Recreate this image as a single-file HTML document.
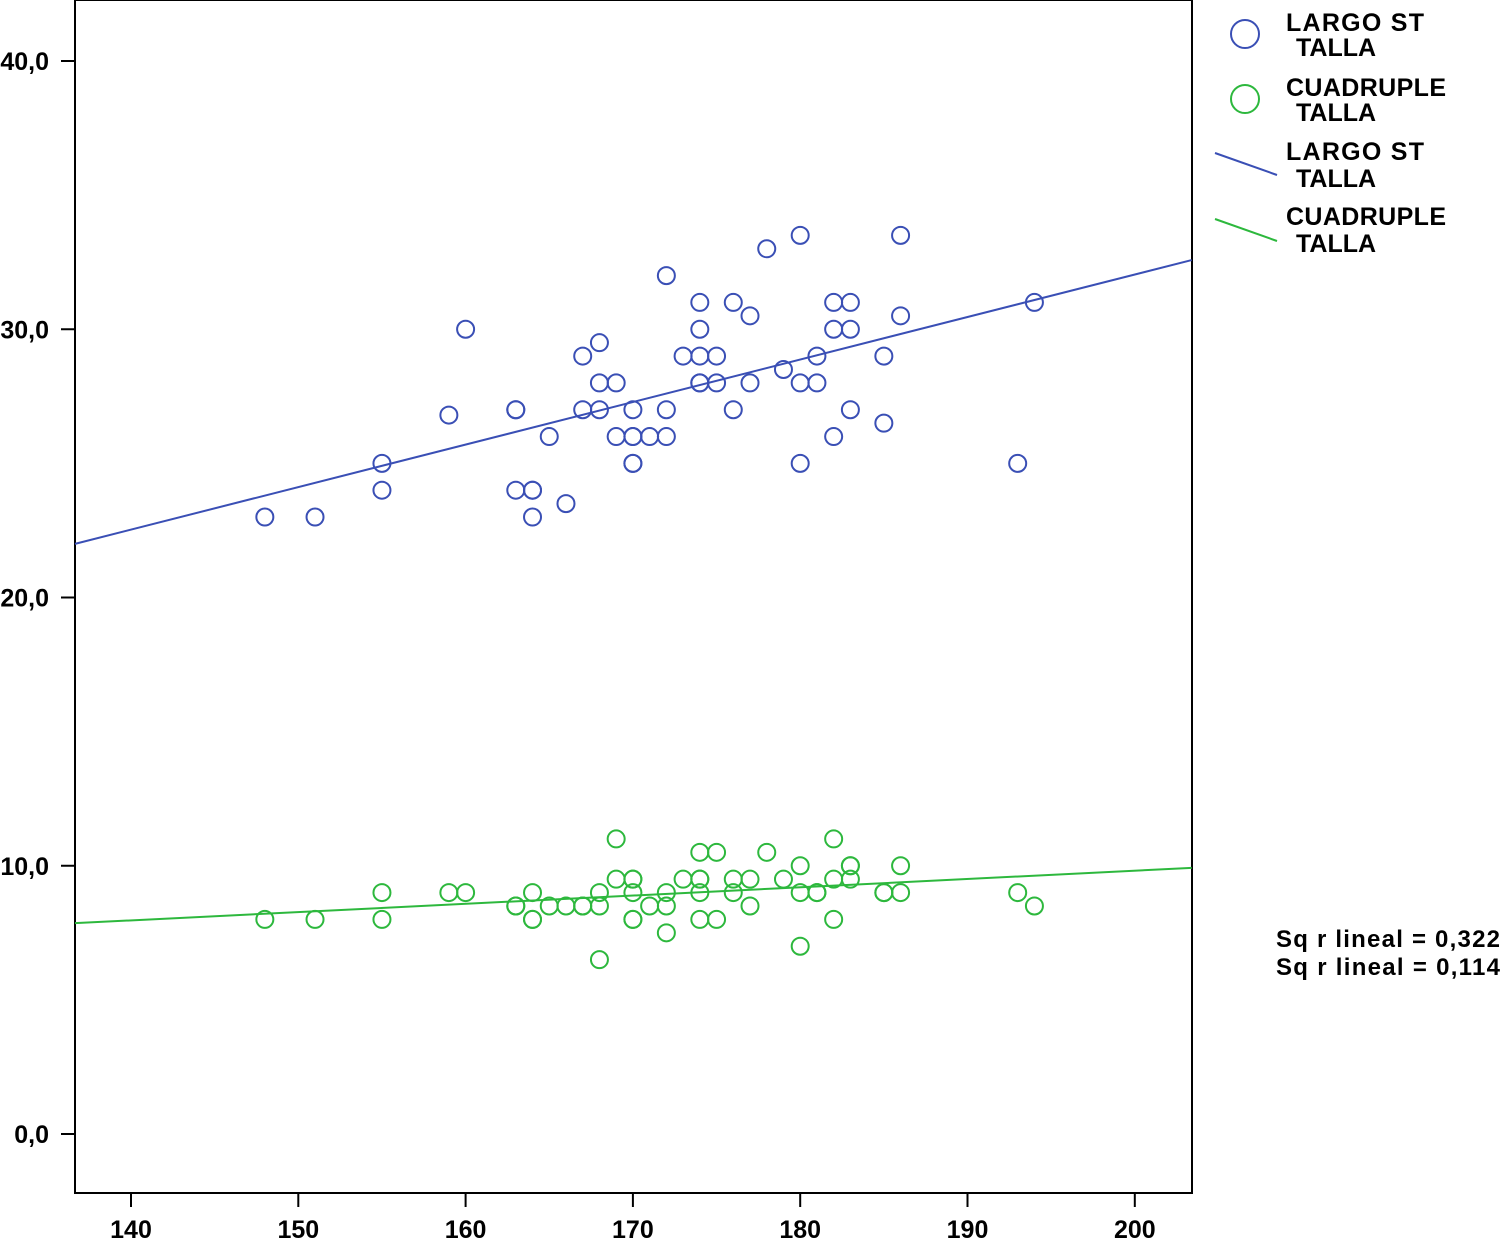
<!DOCTYPE html>
<html><head><meta charset="utf-8"><style>
html,body{margin:0;padding:0;background:#fff;}
svg{display:block;font-family:"Liberation Sans",sans-serif;}
svg text{font-weight:bold;}
</style></head><body>
<svg id="chart" width="1500" height="1243" viewBox="0 0 1500 1243" xmlns="http://www.w3.org/2000/svg">
<rect x="0" y="0" width="1500" height="1243" fill="#fff"/>
<rect x="75" y="0" width="1117" height="1193" fill="#fff" stroke="#000" stroke-width="2"/>
<g id="axes"></g>
<g id="lines"></g>
<g id="points"></g>
<g font-size="25" fill="#000">
<circle cx="1245" cy="34" r="14" fill="none" stroke="#3a4fb5" stroke-width="2"/>
<text x="1286" y="31" textLength="138">LARGO ST</text>
<text x="1296" y="56">TALLA</text>
<circle cx="1245" cy="99" r="14" fill="none" stroke="#2db83d" stroke-width="2"/>
<text x="1286" y="96" textLength="160">CUADRUPLE</text>
<text x="1296" y="121">TALLA</text>
<line x1="1215" y1="153" x2="1277" y2="175" stroke="#3a4fb5" stroke-width="2"/>
<text x="1286" y="160" textLength="138">LARGO ST</text>
<text x="1296" y="187">TALLA</text>
<line x1="1215" y1="219" x2="1277" y2="241" stroke="#2db83d" stroke-width="2"/>
<text x="1286" y="225" textLength="160">CUADRUPLE</text>
<text x="1296" y="252">TALLA</text>
<text x="1276" y="947" font-size="24" textLength="224">Sq r lineal = 0,322</text>
<text x="1276" y="975" font-size="24" textLength="224">Sq r lineal = 0,114</text>
</g>
</svg>
<script>
const xTicks=[140,150,160,170,180,190,200];
const yTicks=[0,10,20,30,40];
const yTickLabels=["0,0","10,0","20,0","30,0","40,0"];
const blueX=[148,151,155,155,159,160,163,163,163,164,164,164,165,166,167,167,168,168,168,169,169,170,170,170,170,170,171,172,172,172,173,174,174,174,174,174,175,175,176,176,177,177,178,179,180,180,180,181,181,182,182,182,183,183,183,185,185,186,186,193,194];
const blueY=[23,23,25,24,26.8,30,27,27,24,24,24,23,26,23.5,29,27,29.5,28,27,28,26,27,26,26,25,25,26,32,27,26,29,31,30,29,28,28,29,28,31,27,30.5,28,33,28.5,33.5,28,25,29,28,31,30,26,31,30,27,29,26.5,33.5,30.5,25,31];
const greenX=[148,151,155,155,159,160,163,163,164,164,164,165,166,167,167,168,168,168,169,169,170,170,170,170,170,171,172,172,172,173,174,174,174,174,174,175,175,176,176,177,177,178,179,180,180,180,181,181,182,182,182,183,183,183,185,185,186,186,193,194];
const greenY=[8,8,9,8,9,9,8.5,8.5,9,8,8,8.5,8.5,8.5,8.5,9,8.5,6.5,11,9.5,9.5,9.5,9,8,8,8.5,9,8.5,7.5,9.5,10.5,9.5,9.5,9,8,10.5,8,9.5,9,9.5,8.5,10.5,9.5,10,9,7,9,9,11,9.5,8,10,10,9.5,9,9,10,9,9,8.5];
const fitXRange=[136.65,203.4];
const blueFit=[22.0,32.58];
const greenFit=[7.86,9.92];

const NS="http://www.w3.org/2000/svg";
const X=v=>131+(v-140)*16.73;
const Y=v=>1134-v*26.825;
function mk(tag,attrs,parent){const e=document.createElementNS(NS,tag);for(const k in attrs)e.setAttribute(k,attrs[k]);parent.appendChild(e);return e;}
const axes=document.getElementById('axes');
xTicks.forEach(t=>{
  const l=mk('line',{x1:X(t),x2:X(t),y1:1193,y2:1207,stroke:'#000','stroke-width':2},axes);
  
  
  const tx=mk('text',{x:X(t),y:1238,'text-anchor':'middle','font-size':25},axes);
  tx.textContent=t;
  
  
});
yTicks.forEach((t,i)=>{
  const l=mk('line',{x1:61,x2:75,y1:Y(t),y2:Y(t),stroke:'#000','stroke-width':2},axes);
  
  
  const tx=mk('text',{x:49,y:Y(t)+9,'text-anchor':'end','font-size':25},axes);
  tx.textContent=yTickLabels[i];
  
  
});
const lines=document.getElementById('lines');
const bl=mk('line',{x1:X(fitXRange[0]),y1:Y(blueFit[0]),x2:X(fitXRange[1]),y2:Y(blueFit[1]),stroke:'#3a4fb5','stroke-width':2},lines);


const gl=mk('line',{x1:X(fitXRange[0]),y1:Y(greenFit[0]),x2:X(fitXRange[1]),y2:Y(greenFit[1]),stroke:'#2db83d','stroke-width':2},lines);


const pts=document.getElementById('points');
blueX.forEach((x,i)=>{
  const c=mk('circle',{cx:X(x),cy:Y(blueY[i]),r:8.5,fill:'none',stroke:'#3a4fb5','stroke-width':2},pts);
  
  
});
greenX.forEach((x,i)=>{
  const c=mk('circle',{cx:X(x),cy:Y(greenY[i]),r:8.5,fill:'none',stroke:'#2db83d','stroke-width':2},pts);
  
  
});
</script>
</body></html>
